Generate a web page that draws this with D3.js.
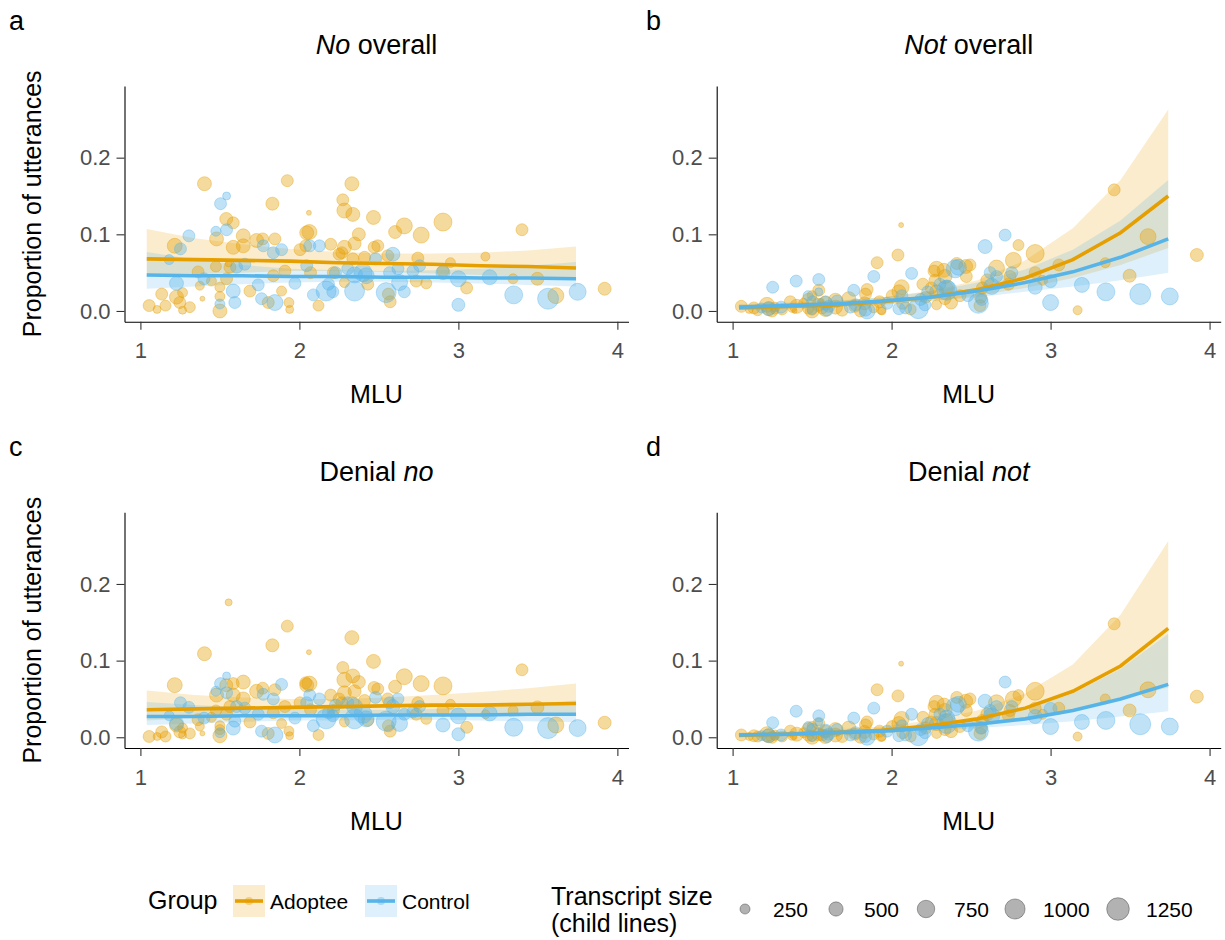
<!DOCTYPE html>
<html>
<head>
<meta charset="utf-8">
<style>
  body {
    margin: 0;
    background: #fff;
    font-family: "Liberation Sans", Arial, Helvetica, sans-serif;
  }
  .tick text {
    fill: #4d4d4d;
    font-size: 22px;
    font-family: "Liberation Sans", Arial, sans-serif;
  }
  .tick line {
    stroke: #333;
    stroke-width: 1.1px;
  }
  .domain {
    stroke: #000;
    stroke-width: 1.1px;
  }
  .panel-title {
    font-size: 27px;
    text-anchor: middle;
  }
  .panel-tag {
    font-size: 27px;
  }
  .axis-title {
    font-size: 25px;
    text-anchor: middle;
  }
  .legend-title {
    font-size: 25px;
  }
  .legend-text {
    font-size: 21px;
  }
</style>
</head>
<body>
<script src="https://d3js.org/d3.v7.min.js"></script>
<script>

// ---- data: one entry per transcript, same children in every panel ----
var adoptMlu = [1.055, 1.105, 1.134, 1.158, 1.216, 1.227, 1.248, 1.265, 1.265, 1.311,
  1.363, 1.374, 1.39, 1.403, 1.447, 1.475, 1.479, 1.50, 1.50, 1.50,
  1.54, 1.542, 1.563, 1.555, 1.584, 1.584, 1.647, 1.647, 1.689, 1.731,
  1.769, 1.804, 1.83, 1.836, 1.846, 1.888, 1.909, 1.924, 1.934, 1.939,
  2.004, 2.04, 2.046, 2.063, 2.06, 2.07, 2.12, 2.197, 2.214, 2.25,
  2.267, 2.273, 2.283, 2.283, 2.283, 2.33, 2.336, 2.336, 2.347, 2.374,
  2.41, 2.43, 2.466, 2.47, 2.493, 2.556, 2.56, 2.571, 2.602, 2.66,
  2.735, 2.745, 2.766, 2.798, 2.903, 2.903, 2.95, 3.052, 3.17, 3.344,
  3.40, 3.497, 3.613, 3.92];
var adoptLines = [352, 156, 352, 295, 549, 479, 352, 244, 156, 295,
  352, 198, 61, 479, 244, 295, 479, 244, 479, 244,
  413, 352, 352, 120, 352, 479, 479, 479, 352, 479,
  352, 352, 413, 352, 352, 244, 352, 352, 244, 156,
  352, 352, 479, 549, 61, 352, 295, 352, 352, 352,
  352, 352, 549, 479, 244, 479, 479, 352, 413, 413,
  352, 352, 479, 352, 352, 352, 352, 352, 413, 625,
  352, 352, 625, 295, 791, 352, 244, 352, 198, 244,
  352, 413, 625, 413];
var adoptNo = [0.007, 0.002, 0.022, 0.007, 0.085, 0.018, 0.011, 0.024, 0.001, 0.005,
  0.051, 0.033, 0.016, 0.166, 0.039, 0.058, 0.094, 0.031, 0.000, 0.019,
  0.120, 0.042, 0.057, 0.062, 0.115, 0.083, 0.098, 0.085, 0.026, 0.092,
  0.094, 0.011, 0.140, 0.046, 0.094, 0.026, 0.052, 0.170, 0.011, 0.002,
  0.080, 0.085, 0.102, 0.103, 0.128, 0.050, 0.007, 0.087, 0.050, 0.074,
  0.076, 0.145, 0.131, 0.083, 0.037, 0.166, 0.126, 0.068, 0.088, 0.100,
  0.070, 0.035, 0.122, 0.083, 0.085, 0.072, 0.022, 0.012, 0.103, 0.111,
  0.039, 0.069, 0.099, 0.036, 0.116, 0.052, 0.063, 0.030, 0.071, 0.042,
  0.106, 0.042, 0.020, 0.029];
var adoptNot = [0.006, 0.002, 0.004, 0.001, 0.008, 0.003, 0.000, 0.005, 0.001, 0.002,
  0.012, 0.004, 0.000, 0.006, 0.010, 0.003, 0.014, 0.001, 0.000, 0.020,
  0.008, 0.027, 0.004, 0.012, 0.012, 0.002, 0.014, 0.005, 0.001, 0.016,
  0.006, 0.000, 0.010, 0.022, 0.028, 0.004, 0.063, 0.012, 0.002, 0.000,
  0.020, 0.073, 0.025, 0.031, 0.112, 0.010, 0.002, 0.035, 0.018, 0.030,
  0.052, 0.040, 0.055, 0.025, 0.008, 0.053, 0.045, 0.016, 0.030, 0.011,
  0.062, 0.020, 0.058, 0.045, 0.060, 0.007, 0.018, 0.030, 0.040, 0.056,
  0.035, 0.045, 0.066, 0.086, 0.075, 0.050, 0.040, 0.060, 0.001, 0.063,
  0.158, 0.046, 0.097, 0.073];
var adoptDenNo = [0.001, 0.001, 0.007, 0.001, 0.068, 0.016, 0.007, 0.012, 0.003, 0.005,
  0.023, 0.014, 0.005, 0.109, 0.026, 0.035, 0.055, 0.015, 0.002, 0.010,
  0.068, 0.030, 0.040, 0.176, 0.070, 0.055, 0.072, 0.050, 0.020, 0.060,
  0.064, 0.005, 0.120, 0.032, 0.062, 0.018, 0.040, 0.145, 0.008, 0.002,
  0.045, 0.071, 0.068, 0.070, 0.111, 0.036, 0.003, 0.055, 0.035, 0.050,
  0.045, 0.091, 0.075, 0.058, 0.020, 0.130, 0.080, 0.045, 0.060, 0.072,
  0.048, 0.022, 0.099, 0.065, 0.063, 0.050, 0.015, 0.008, 0.066, 0.079,
  0.030, 0.045, 0.070, 0.024, 0.067, 0.035, 0.043, 0.013, 0.030, 0.035,
  0.088, 0.039, 0.016, 0.019];
var adoptDenNot = [0.003, 0.001, 0.002, 0.001, 0.004, 0.002, 0.000, 0.003, 0.001, 0.001,
  0.008, 0.002, 0.000, 0.004, 0.006, 0.002, 0.010, 0.001, 0.000, 0.014,
  0.004, 0.018, 0.003, 0.006, 0.008, 0.001, 0.010, 0.003, 0.001, 0.012,
  0.004, 0.000, 0.007, 0.016, 0.020, 0.003, 0.062, 0.008, 0.001, 0.000,
  0.014, 0.054, 0.018, 0.024, 0.096, 0.006, 0.001, 0.026, 0.012, 0.020,
  0.040, 0.030, 0.045, 0.018, 0.005, 0.042, 0.035, 0.010, 0.022, 0.008,
  0.052, 0.014, 0.047, 0.035, 0.050, 0.005, 0.012, 0.022, 0.030, 0.045,
  0.028, 0.035, 0.050, 0.055, 0.060, 0.038, 0.030, 0.038, 0.001, 0.050,
  0.148, 0.035, 0.062, 0.053];

var ctrlMlu = [1.181, 1.227, 1.252, 1.305, 1.40, 1.475, 1.50, 1.504, 1.542, 1.542,
  1.584, 1.594, 1.605, 1.657, 1.741, 1.762, 1.773, 1.836, 1.846, 1.888,
  1.972, 2.046, 2.065, 2.088, 2.126, 2.168, 2.183, 2.21, 2.227, 2.304,
  2.347, 2.347, 2.40, 2.42, 2.479, 2.546, 2.567, 2.588, 2.62, 2.63,
  2.66, 2.714, 2.756, 2.903, 3.0, 3.0, 3.197, 3.348, 3.564, 3.75];
var ctrlLines = [244, 479, 352, 352, 352, 244, 244, 352, 156, 352,
  479, 352, 352, 352, 352, 352, 352, 352, 625, 352,
  352, 352, 352, 352, 352, 977, 352, 352, 352, 352,
  625, 977, 791, 625, 352, 977, 352, 479, 352, 625,
  352, 352, 352, 479, 625, 413, 549, 791, 1077, 706];
var ctrlNo = [0.067, 0.036, 0.081, 0.098, 0.042, 0.104, 0.009, 0.140, 0.150, 0.106,
  0.026, 0.011, 0.057, 0.061, 0.034, 0.016, 0.085, 0.076, 0.011, 0.080,
  0.036, 0.059, 0.085, 0.021, 0.085, 0.026, 0.035, 0.025, 0.050, 0.055,
  0.047, 0.026, 0.050, 0.046, 0.068, 0.024, 0.050, 0.074, 0.055, 0.037,
  0.025, 0.052, 0.059, 0.050, 0.042, 0.008, 0.044, 0.021, 0.016, 0.025];
var ctrlNot = [0.004, 0.003, 0.031, 0.005, 0.039, 0.020, 0.002, 0.012, 0.025, 0.041,
  0.010, 0.001, 0.006, 0.013, 0.005, 0.027, 0.008, 0.001, 0.000, 0.045,
  0.010, 0.003, 0.020, 0.004, 0.049, 0.003, 0.015, 0.008, 0.025, 0.035,
  0.030, 0.027, 0.055, 0.057, 0.020, 0.010, 0.015, 0.084, 0.050, 0.032,
  0.045, 0.099, 0.050, 0.031, 0.011, 0.039, 0.034, 0.025, 0.022, 0.019];
var ctrlDenNo = [0.028, 0.018, 0.045, 0.039, 0.025, 0.060, 0.006, 0.070, 0.080, 0.058,
  0.012, 0.021, 0.040, 0.038, 0.030, 0.008, 0.056, 0.050, 0.003, 0.069,
  0.025, 0.045, 0.055, 0.015, 0.050, 0.024, 0.032, 0.028, 0.042, 0.045,
  0.040, 0.024, 0.030, 0.024, 0.052, 0.021, 0.045, 0.040, 0.050, 0.018,
  0.030, 0.033, 0.040, 0.016, 0.028, 0.004, 0.031, 0.013, 0.012, 0.012];
var ctrlDenNot = [0.002, 0.002, 0.019, 0.003, 0.034, 0.014, 0.001, 0.010, 0.020, 0.028,
  0.008, 0.001, 0.004, 0.010, 0.003, 0.025, 0.006, 0.001, 0.000, 0.038,
  0.008, 0.002, 0.015, 0.003, 0.030, 0.002, 0.010, 0.006, 0.018, 0.030,
  0.025, 0.018, 0.040, 0.043, 0.015, 0.008, 0.012, 0.047, 0.035, 0.028,
  0.040, 0.072, 0.040, 0.027, 0.014, 0.037, 0.020, 0.022, 0.017, 0.014];

// ---- model predictions (grid of MLU values) ----
var fitMlu = [1.04, 1.34, 1.64, 1.94, 2.24, 2.54, 2.84, 3.14, 3.44, 3.74];

var adoptFitNo = [0.068, 0.067, 0.066, 0.065, 0.063, 0.062, 0.061, 0.059, 0.058, 0.056];
var adoptLoNo  = [0.045, 0.048, 0.050, 0.052, 0.052, 0.051, 0.049, 0.047, 0.044, 0.041];
var adoptHiNo  = [0.107, 0.095, 0.087, 0.081, 0.077, 0.075, 0.075, 0.076, 0.079, 0.084];
var ctrlFitNo  = [0.047, 0.046, 0.046, 0.045, 0.045, 0.044, 0.044, 0.043, 0.043, 0.042];
var ctrlLoNo   = [0.029, 0.032, 0.035, 0.037, 0.038, 0.038, 0.037, 0.036, 0.034, 0.032];
var ctrlHiNo   = [0.077, 0.067, 0.060, 0.055, 0.053, 0.052, 0.053, 0.055, 0.059, 0.064];

var adoptFitNot = [0.004, 0.006, 0.008, 0.012, 0.018, 0.028, 0.043, 0.067, 0.102, 0.150];
var adoptLoNot  = [0.002, 0.003, 0.005, 0.008, 0.013, 0.020, 0.030, 0.043, 0.060, 0.082];
var adoptHiNot  = [0.008, 0.010, 0.013, 0.018, 0.026, 0.040, 0.066, 0.108, 0.171, 0.263];
var ctrlFitNot  = [0.005, 0.007, 0.009, 0.013, 0.018, 0.026, 0.037, 0.051, 0.070, 0.094];
var ctrlLoNot   = [0.003, 0.004, 0.006, 0.009, 0.013, 0.018, 0.025, 0.032, 0.040, 0.050];
var ctrlHiNot   = [0.009, 0.011, 0.013, 0.018, 0.025, 0.037, 0.054, 0.080, 0.118, 0.171];

var adoptFitDenNo = [0.036, 0.037, 0.038, 0.039, 0.040, 0.041, 0.042, 0.042, 0.043, 0.044];
var adoptLoDenNo  = [0.022, 0.025, 0.028, 0.030, 0.031, 0.031, 0.031, 0.030, 0.029, 0.028];
var adoptHiDenNo  = [0.061, 0.055, 0.052, 0.050, 0.050, 0.052, 0.055, 0.059, 0.064, 0.070];
var ctrlFitDenNo  = [0.027, 0.027, 0.028, 0.028, 0.028, 0.029, 0.029, 0.029, 0.030, 0.030];
var ctrlLoDenNo   = [0.016, 0.018, 0.020, 0.022, 0.022, 0.023, 0.023, 0.022, 0.021, 0.020];
var ctrlHiDenNo   = [0.046, 0.042, 0.039, 0.037, 0.036, 0.036, 0.037, 0.039, 0.043, 0.048];

var adoptFitDenNot = [0.0025, 0.004, 0.006, 0.009, 0.015, 0.024, 0.038, 0.060, 0.093, 0.142];
var adoptLoDenNot  = [0.001, 0.002, 0.003, 0.006, 0.010, 0.016, 0.025, 0.036, 0.050, 0.065];
var adoptHiDenNot  = [0.006, 0.007, 0.010, 0.014, 0.022, 0.035, 0.057, 0.095, 0.160, 0.256];
var ctrlFitDenNot  = [0.003, 0.004, 0.006, 0.008, 0.012, 0.017, 0.024, 0.035, 0.050, 0.069];
var ctrlLoDenNot   = [0.002, 0.003, 0.004, 0.006, 0.008, 0.012, 0.016, 0.021, 0.027, 0.034];
var ctrlHiDenNot   = [0.006, 0.007, 0.009, 0.011, 0.016, 0.024, 0.037, 0.057, 0.089, 0.135];

var xTicks = [1, 2, 3, 4],
    yTicks = [0, 0.1, 0.2],
    groupNames = ["Adoptee", "Control"],
    sizeBreaks = [250, 500, 750, 1000, 1250];

// ---- layout ----
var orange = "#E69F00",
    blue = "#56B4E9",
    plotW = 504,
    plotH = 235.7,
    xDomain = [0.9, 4.07],
    yDomain = [-0.014, 0.2935];

var rScale = d3.scaleSqrt().domain([0, 1250]).range([0, 11.3]);

var panels = [
  {tag: "a", tagX: 9, title: [["No", true], [" overall", false]], left: 124.5, top: 86, ylab: true,
   pts: [adoptNo, ctrlNo], fit: [[adoptFitNo, adoptLoNo, adoptHiNo], [ctrlFitNo, ctrlLoNo, ctrlHiNo]]},
  {tag: "b", tagX: 646, title: [["Not", true], [" overall", false]], left: 716.7, top: 86, ylab: false,
   pts: [adoptNot, ctrlNot], fit: [[adoptFitNot, adoptLoNot, adoptHiNot], [ctrlFitNot, ctrlLoNot, ctrlHiNot]]},
  {tag: "c", tagX: 9, title: [["Denial ", false], ["no", true]], left: 124.5, top: 512.3, ylab: true,
   pts: [adoptDenNo, ctrlDenNo], fit: [[adoptFitDenNo, adoptLoDenNo, adoptHiDenNo], [ctrlFitDenNo, ctrlLoDenNo, ctrlHiDenNo]]},
  {tag: "d", tagX: 646, title: [["Denial ", false], ["not", true]], left: 716.7, top: 512.3, ylab: false,
   pts: [adoptDenNot, ctrlDenNot], fit: [[adoptFitDenNot, adoptLoDenNot, adoptHiDenNot], [ctrlFitDenNot, ctrlLoDenNot, ctrlHiDenNot]]}
];

var svg = d3.select("body").append("svg")
    .attr("width", 1225)
    .attr("height", 940);

svg.append("rect")
    .attr("width", 1225)
    .attr("height", 940)
    .attr("fill", "#fff");

panels.forEach(function(p) {
  var x = d3.scaleLinear().domain(xDomain).range([p.left, p.left + plotW]),
      y = d3.scaleLinear().domain(yDomain).range([p.top + plotH, p.top]);

  var g = svg.append("g");
  var colors = [orange, blue];

  // ribbons
  [0, 1].forEach(function(k) {
    var f = p.fit[k];
    var area = d3.area()
        .x(function(d, i) { return x(fitMlu[i]); })
        .y0(function(d, i) { return y(f[1][i]); })
        .y1(function(d, i) { return y(f[2][i]); });
    g.append("path")
        .datum(fitMlu)
        .attr("d", area)
        .attr("fill", colors[k])
        .attr("fill-opacity", 0.2);
  });

  // points
  var mlus = [adoptMlu, ctrlMlu],
      sizes = [adoptLines, ctrlLines];
  [0, 1].forEach(function(k) {
    g.append("g").selectAll("circle")
        .data(p.pts[k])
      .enter().append("circle")
        .attr("cx", function(d, i) { return x(mlus[k][i]); })
        .attr("cy", function(d) { return y(d); })
        .attr("r", function(d, i) { return rScale(sizes[k][i]); })
        .attr("fill", colors[k])
        .attr("fill-opacity", 0.38)
        .attr("stroke", colors[k])
        .attr("stroke-opacity", 0.38)
        .attr("stroke-width", 1);
  });

  // fitted lines
  [0, 1].forEach(function(k) {
    var f = p.fit[k];
    var line = d3.line()
        .x(function(d, i) { return x(fitMlu[i]); })
        .y(function(d, i) { return y(f[0][i]); });
    g.append("path")
        .datum(fitMlu)
        .attr("d", line)
        .attr("fill", "none")
        .attr("stroke", colors[k])
        .attr("stroke-width", 3.6);
  });

  // axes
  svg.append("g")
      .attr("transform", "translate(" + p.left + ",0)")
      .call(d3.axisLeft(y).tickValues(yTicks).tickFormat(d3.format(".1f"))
        .tickSize(8).tickSizeOuter(0).tickPadding(6));

  svg.append("g")
      .attr("transform", "translate(0," + (p.top + plotH) + ")")
      .call(d3.axisBottom(x).tickValues(xTicks).tickFormat(d3.format("d"))
        .tickSize(8).tickSizeOuter(0).tickPadding(13));

  svg.selectAll(".tick text").attr("font-family", null);

  // title
  var t = svg.append("text")
      .attr("class", "panel-title")
      .attr("x", p.left + plotW / 2)
      .attr("y", p.top - 31.7);
  p.title.forEach(function(part) {
    t.append("tspan")
        .style("font-style", part[1] ? "italic" : "normal")
        .text(part[0]);
  });

  svg.append("text")
      .attr("class", "panel-tag")
      .attr("x", p.tagX)
      .attr("y", p.top - 56)
      .text(p.tag);

  svg.append("text")
      .attr("class", "axis-title")
      .attr("x", p.left + plotW / 2)
      .attr("y", p.top + 317.3)
      .text("MLU");

  if (p.ylab) {
    svg.append("text")
        .attr("class", "axis-title")
        .attr("transform", "translate(41," + (p.top + plotH / 2) + ") rotate(-90)")
        .text("Proportion of utterances");
  }
});

// ---- legend: group ----
var legend = svg.append("g");

legend.append("text")
    .attr("class", "legend-title")
    .attr("x", 148)
    .attr("y", 909)
    .text("Group");

var keyX = [233, 365],
    textX = [270, 402];

groupNames.forEach(function(name, k) {
  var c = k === 0 ? orange : blue;
  legend.append("rect")
      .attr("x", keyX[k])
      .attr("y", 885)
      .attr("width", 32)
      .attr("height", 32)
      .attr("fill", c)
      .attr("fill-opacity", 0.2);
  legend.append("line")
      .attr("x1", keyX[k] + 2)
      .attr("x2", keyX[k] + 30)
      .attr("y1", 901)
      .attr("y2", 901)
      .attr("stroke", c)
      .attr("stroke-width", 3.6);
  legend.append("circle")
      .attr("cx", keyX[k] + 16)
      .attr("cy", 901)
      .attr("r", 4)
      .attr("fill", c)
      .attr("fill-opacity", 0.38);
  legend.append("text")
      .attr("class", "legend-text")
      .attr("x", textX[k])
      .attr("y", 908.5)
      .text(name);
});

// ---- legend: size ----
legend.append("text")
    .attr("class", "legend-title")
    .attr("x", 551)
    .attr("y", 905)
    .text("Transcript size");
legend.append("text")
    .attr("class", "legend-title")
    .attr("x", 551)
    .attr("y", 932)
    .text("(child lines)");

var sizeX = [745, 836, 926, 1015, 1118];

legend.selectAll("circle.size")
    .data(sizeBreaks)
  .enter().append("circle")
    .attr("class", "size")
    .attr("cx", function(d, i) { return sizeX[i]; })
    .attr("cy", 909)
    .attr("r", function(d) { return rScale(d); })
    .attr("fill", "#000")
    .attr("fill-opacity", 0.3)
    .attr("stroke", "#000")
    .attr("stroke-opacity", 0.3);

legend.selectAll("text.size")
    .data(sizeBreaks)
  .enter().append("text")
    .attr("class", "legend-text size")
    .attr("x", function(d, i) { return sizeX[i] + 28; })
    .attr("y", 916.5)
    .text(function(d) { return d; });

</script>
</body>
</html>
